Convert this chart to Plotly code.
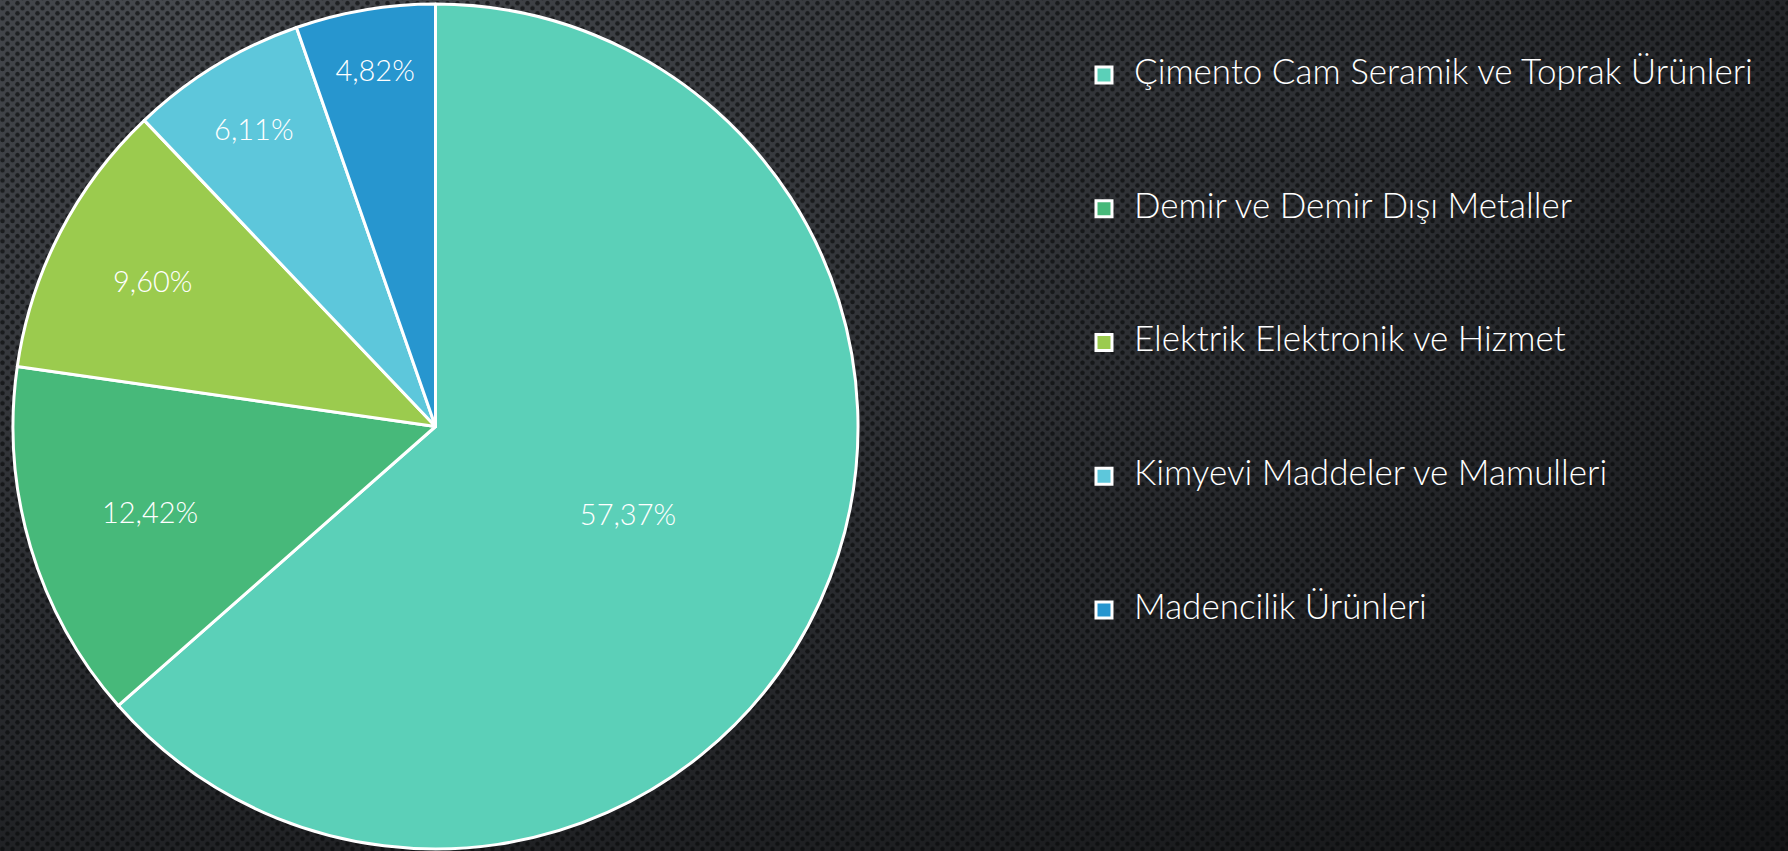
"""Pie chart: sector shares with a textured dark slide background."""

import plotly.graph_objects as go

LABELS = [
    "Çimento Cam Seramik ve Toprak Ürünleri",
    "Demir ve Demir Dışı Metaller",
    "Elektrik Elektronik ve Hizmet",
    "Kimyevi Maddeler ve Mamulleri",
    "Madencilik Ürünleri",
]
VALUES = [57.37, 12.42, 9.60, 6.11, 4.82]
COLORS = ["#5BD0B8", "#47B97A", "#9BCB4E", "#5DC7DB", "#2796CF"]

FONT = "Lato"
W, H = 1788, 851

pct_text = [f"{v:.2f}%".replace(".", ",") for v in VALUES]

# background: diagonal dark gradient with a perforated dot pattern
BG_SVG = (
    "<svg xmlns='http://www.w3.org/2000/svg' width='1788' height='851'>"
    "<defs>"
    "<radialGradient id='g' cx='0.1' cy='0' r='1.3'>"
    "<stop offset='0' stop-color='%2346494e'/>"
    "<stop offset='0.55' stop-color='%232b2d31'/>"
    "<stop offset='1' stop-color='%23151618'/>"
    "</radialGradient>"
    "<pattern id='p' width='10' height='10' patternUnits='userSpaceOnUse'>"
    "<circle cx='2.5' cy='2.5' r='2.3' fill='%23050607' fill-opacity='0.6'/>"
    "<circle cx='7.5' cy='7.5' r='2.3' fill='%23050607' fill-opacity='0.6'/>"
    "</pattern>"
    "</defs>"
    "<rect width='1788' height='851' fill='url(%23g)'/>"
    "<rect width='1788' height='851' fill='url(%23p)'/>"
    "</svg>"
)

fig = go.Figure()

fig.add_trace(
    go.Pie(
        labels=LABELS,
        values=VALUES,
        text=pct_text,
        textinfo="text",
        textposition="inside",
        insidetextorientation="horizontal",
        textfont=dict(family=FONT, size=29, color="white", weight=300),
        marker=dict(colors=COLORS, line=dict(color="white", width=3)),
        sort=False,
        direction="clockwise",
        rotation=0,
        domain=dict(x=[10 / W, 861 / W], y=[0, 1]),
        showlegend=False,
        hoverinfo="label+percent",
    )
)

# legend drawn as a marker column so the items can be spread down the slide
idx = list(range(len(LABELS)))
fig.add_trace(
    go.Scatter(
        x=[0] * len(LABELS),
        y=idx,
        mode="markers+text",
        text=["  " + s for s in LABELS],
        textposition="middle right",
        textfont=dict(family=FONT, size=35, color="white", weight=300),
        marker=dict(symbol="square", size=16, color=COLORS, line=dict(color="white", width=3)),
        showlegend=False,
        hoverinfo="skip",
        cliponaxis=False,
    )
)

fig.update_layout(
    width=W,
    height=H,
    margin=dict(l=0, r=0, t=4, b=2),
    paper_bgcolor="#2a2c30",
    plot_bgcolor="rgba(0,0,0,0)",
    xaxis=dict(domain=[0.6, 1.0], range=[-31.2, 684], visible=False, fixedrange=True),
    yaxis=dict(range=[5.787, -0.531], visible=False, fixedrange=True),
    images=[
        dict(
            source="data:image/svg+xml;charset=utf-8," + BG_SVG,
            xref="paper",
            yref="paper",
            x=0,
            y=1.01,
            sizex=1,
            sizey=1.02,
            sizing="stretch",
            xanchor="left",
            yanchor="top",
            layer="below",
        )
    ],
)

# drop the browser's default body margin so the slide fills the window
fig.write_html(
    "out.html",
    config={"displayModeBar": False},
    post_script="document.body.style.margin='0';document.body.style.background='#1e1f22';",
)
